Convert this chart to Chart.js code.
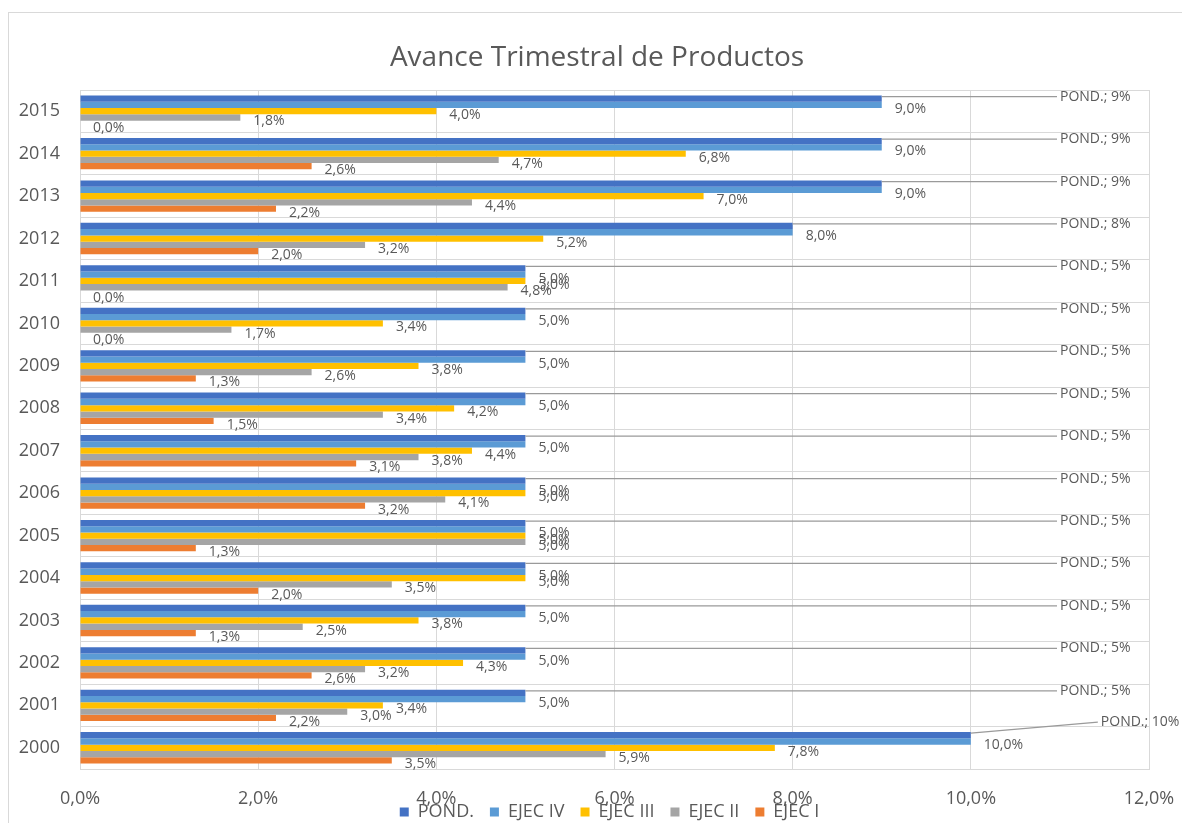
<!DOCTYPE html>
<html>
<head>
<meta charset="utf-8">
<script src="https://cdn.jsdelivr.net/npm/chart.js@4.4.1/dist/chart.umd.min.js"></script>
<style>
  body { margin: 0; background: #fff; }
</style>
</head>
<body>
<canvas id="chart" width="1182" height="823"></canvas>
<script>
// years from top to bottom, as in the picture
const years = ["2015", "2014", "2013", "2012", "2011", "2010", "2009", "2008",
               "2007", "2006", "2005", "2004", "2003", "2002", "2001", "2000"]

const pond   = [9, 9, 9, 8, 5, 5, 5, 5, 5, 5, 5, 5, 5, 5, 5, 10]
const ejecIV = [9.0, 9.0, 9.0, 8.0, 5.0, 5.0, 5.0, 5.0, 5.0, 5.0, 5.0, 5.0, 5.0, 5.0, 5.0, 10.0]
const ejecIII = [4.0, 6.8, 7.0, 5.2, 5.0, 3.4, 3.8, 4.2, 4.4, 5.0, 5.0, 5.0, 3.8, 4.3, 3.4, 7.8]
const ejecII = [1.8, 4.7, 4.4, 3.2, 4.8, 1.7, 2.6, 3.4, 3.8, 4.1, 5.0, 3.5, 2.5, 3.2, 3.0, 5.9]
const ejecI  = [0.0, 2.6, 2.2, 2.0, 0.0, 0.0, 1.3, 1.5, 3.1, 3.2, 1.3, 2.0, 1.3, 2.6, 2.2, 3.5]

const xTicks = [0, 2, 4, 6, 8, 10, 12]
const titleText = "Avance Trimestral de Productos"

const textColor = "#595959"
const gridColor = "#d9d9d9"
const fontName = '"Open Sans", sans-serif'

const fmt = v => v.toFixed(1).replace(".", ",") + "%"

// white page, thin outer frame and the title
const frame = {
    id: "frame",
    afterLayout: (chart) => {
        // legend sits a bit higher and to the right, like in the original
        const lg = chart.legend
        lg.top -= 24; lg.bottom -= 24
        lg.left += 31; lg.right += 31
    },
    beforeDraw: (chart) => {
        const ctx = chart.ctx
        ctx.save()
        ctx.fillStyle = "#fff"
        ctx.fillRect(0, 0, chart.width, chart.height)
        ctx.strokeStyle = gridColor
        ctx.lineWidth = 1
        ctx.strokeRect(8.5, 12.5, chart.width + 20, chart.height + 20)
        ctx.fillStyle = textColor
        ctx.font = "28px " + fontName
        ctx.textAlign = "center"
        ctx.textBaseline = "middle"
        ctx.fillText(titleText, 597, 58)
        ctx.restore()
    }
}

const barLabels = {
    id: "barLabels",
    afterDatasetsDraw: (chart) => {
        const ctx = chart.ctx
        ctx.save()
        ctx.font = "14px " + fontName
        ctx.fillStyle = textColor
        ctx.textBaseline = "middle"
        ctx.textAlign = "left"
        chart.data.datasets.forEach((ds, i) => {
            const meta = chart.getDatasetMeta(i)
            meta.data.forEach((bar, j) => {
                const v = ds.data[j]
                if (i === 0) {
                    // callout label for POND.
                    const pushed = bar.x + 130 > 1060
                    const lx = pushed ? bar.x + 130 : 1060
                    const ly = pushed ? bar.y - 13 : bar.y - 2
                    ctx.strokeStyle = "#9a9a9a"
                    ctx.lineWidth = 1.2
                    ctx.beginPath()
                    ctx.moveTo(bar.x, bar.y - 2)
                    ctx.lineTo(lx - 3, ly)
                    ctx.stroke()
                    ctx.fillText(`POND.; ${v}%`, lx, ly)
                } else {
                    ctx.fillText(fmt(v), bar.x + 13, bar.y + 4)
                }
            })
        })
        ctx.restore()
    }
}

const ctx = document.getElementById("chart").getContext("2d")
const chart = new Chart(ctx, {
    type: "bar",
    data: {
        labels: years,
        datasets: [
            { label: "POND.", data: pond, backgroundColor: "#4472C4" },
            { label: "EJEC IV", data: ejecIV, backgroundColor: "#5B9BD5" },
            { label: "EJEC III", data: ejecIII, backgroundColor: "#FFC000" },
            { label: "EJEC II", data: ejecII, backgroundColor: "#A5A5A5" },
            { label: "EJEC I", data: ejecI, backgroundColor: "#ED7D31" }
        ]
    },
    options: {
        indexAxis: "y",
        responsive: false,
        animation: false,
        datasets: {
            bar: { barPercentage: 1, categoryPercentage: 0.74 }
        },
        layout: { padding: { left: 8, right: 33, top: 90, bottom: -32 } },
        scales: {
            x: {
                min: 0,
                max: 12,
                afterBuildTicks: (axis) => { axis.ticks = xTicks.map(v => ({ value: v })) },
                afterFit: (axis) => {
                    axis.height = 42
                    axis.paddingRight = 0
                    axis.paddingLeft = 0
                },
                ticks: {
                    callback: v => fmt(v),
                    color: textColor,
                    font: { family: fontName, size: 18 },
                    padding: 19
                },
                grid: { color: gridColor, drawTicks: false },
                border: { color: gridColor }
            },
            y: {
                afterFit: (axis) => { axis.width = 72 },
                ticks: {
                    color: textColor,
                    font: { family: fontName, size: 18 },
                    padding: 20
                },
                grid: { color: gridColor, drawTicks: false, offset: true },
                border: { color: gridColor }
            }
        },
        plugins: {
            title: { display: false },
            legend: {
                position: "bottom",
                labels: {
                    color: textColor,
                    font: { family: fontName, size: 18 },
                    boxWidth: 9,
                    boxHeight: 9,
                    padding: 16
                }
            },
            tooltip: { enabled: false }
        }
    },
    plugins: [frame, barLabels]
})
</script>
</body>
</html>
